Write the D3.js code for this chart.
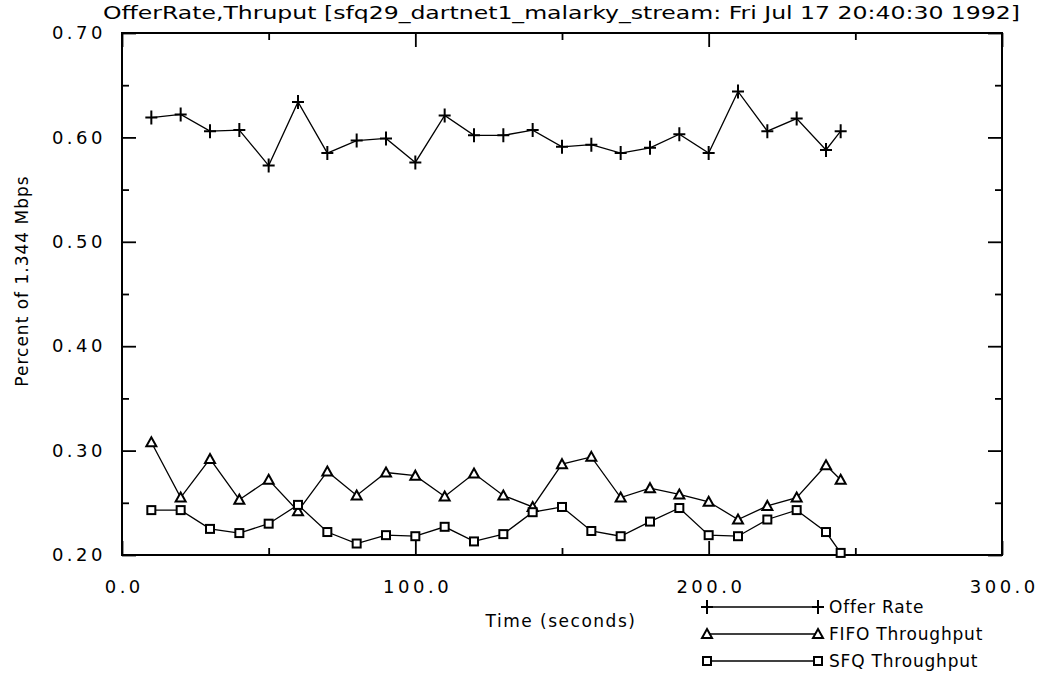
<!DOCTYPE html>
<html>
<head>
<meta charset="utf-8">
<script src="https://cdn.jsdelivr.net/npm/d3@7"></script>
<style>
  html, body { margin: 0; padding: 0; background: #fff; }
  svg { display: block; }
  text { font-family: "DejaVu Sans", sans-serif; fill: #000; }
</style>
</head>
<body>
<svg id="chart" width="1038" height="677"></svg>
<script>
// Sample times (seconds)
const times = [10, 20, 30, 40, 50, 60, 70, 80, 90, 100, 110, 120, 130,
               140, 150, 160, 170, 180, 190, 200, 210, 220, 230, 240, 245];

// Fraction of the 1.344 Mbps link
const offerRate = [0.619, 0.622, 0.606, 0.607, 0.573, 0.634, 0.585, 0.597, 0.599, 0.576,
                   0.621, 0.602, 0.602, 0.607, 0.591, 0.593, 0.585, 0.590, 0.603, 0.585,
                   0.644, 0.606, 0.618, 0.588, 0.606];
const fifoThroughput = [0.308, 0.255, 0.292, 0.253, 0.272, 0.242, 0.280, 0.257, 0.279, 0.276,
                        0.256, 0.278, 0.257, 0.246, 0.287, 0.294, 0.255, 0.264, 0.258, 0.251,
                        0.234, 0.247, 0.255, 0.286, 0.272];
const sfqThroughput = [0.243, 0.243, 0.225, 0.221, 0.230, 0.248, 0.222, 0.211, 0.219, 0.218,
                       0.227, 0.213, 0.220, 0.241, 0.246, 0.223, 0.218, 0.232, 0.245, 0.219,
                       0.218, 0.234, 0.243, 0.222, 0.202];

// Axis ticks
const xMajorTicks = [0, 100, 200, 300];
const xMinorTicks = [50, 150, 250];
const yMajorTicks = [0.2, 0.3, 0.4, 0.5, 0.6, 0.7];
const yMinorTicks = [0.25, 0.35, 0.45, 0.55, 0.65];

const titleText = "OfferRate,Thruput [sfq29_dartnet1_malarky_stream: Fri Jul 17 20:40:30 1992]";
const xLabel = "Time (seconds)";
const yLabel = "Percent of 1.344 Mbps";
const seriesNames = ["Offer Rate", "FIFO Throughput", "SFQ Throughput"];
const seriesMarkers = ["plus", "triangle", "square"];

const svg = d3.select("#chart");
const plotLeft = 122, plotRight = 1002, plotTop = 33, plotBottom = 555;

const x = d3.scaleLinear().domain([0, 300]).range([plotLeft, plotRight]);
const y = d3.scaleLinear().domain([0.2, 0.7]).range([plotBottom, plotTop]);

// Frame
svg.append("rect")
  .attr("x", plotLeft).attr("y", plotTop)
  .attr("width", plotRight - plotLeft).attr("height", plotBottom - plotTop)
  .attr("fill", "none").attr("stroke", "#000").attr("stroke-width", 2);

const tickStyle = g => {
  g.select(".domain").remove();
  g.selectAll(".tick line").attr("stroke", "#000").attr("stroke-width", 1.8);
  g.selectAll(".tick text")
    .style("font-size", "18px")
    .style("letter-spacing", "3.5px")
    .attr("fill", "#000");
};

// Bottom axis: labelled major ticks, pointing inward
svg.append("g").attr("transform", `translate(0,${plotBottom})`)
  .call(d3.axisBottom(x).tickValues(xMajorTicks).tickSize(-14).tickPadding(25)
        .tickFormat(d3.format(".1f")))
  .call(tickStyle)
  .call(g => g.selectAll(".tick text").attr("dx", "1.75px"));
svg.append("g").attr("transform", `translate(0,${plotBottom})`)
  .call(d3.axisBottom(x).tickValues(xMinorTicks).tickSize(-7).tickFormat(""))
  .call(tickStyle);
// Top axis
svg.append("g").attr("transform", `translate(0,${plotTop})`)
  .call(d3.axisTop(x).tickValues(xMajorTicks).tickSize(-14).tickFormat(""))
  .call(tickStyle);
svg.append("g").attr("transform", `translate(0,${plotTop})`)
  .call(d3.axisTop(x).tickValues(xMinorTicks).tickSize(-7).tickFormat(""))
  .call(tickStyle);

// Left axis
svg.append("g").attr("transform", `translate(${plotLeft},0)`)
  .call(d3.axisLeft(y).tickValues(yMajorTicks).tickSize(-14).tickPadding(16)
        .tickFormat(d3.format(".2f")))
  .call(tickStyle);
svg.append("g").attr("transform", `translate(${plotLeft},0)`)
  .call(d3.axisLeft(y).tickValues(yMinorTicks).tickSize(-7).tickFormat(""))
  .call(tickStyle);
// Right axis
svg.append("g").attr("transform", `translate(${plotRight},0)`)
  .call(d3.axisRight(y).tickValues(yMajorTicks).tickSize(-14).tickFormat(""))
  .call(tickStyle);
svg.append("g").attr("transform", `translate(${plotRight},0)`)
  .call(d3.axisRight(y).tickValues(yMinorTicks).tickSize(-7).tickFormat(""))
  .call(tickStyle);

// Title
svg.append("text")
  .attr("x", 103).attr("y", 19)
  .attr("textLength", 917).attr("lengthAdjust", "spacingAndGlyphs")
  .style("font-size", "17px")
  .text(titleText);

// Axis titles
svg.append("text")
  .attr("x", 561).attr("y", 627)
  .attr("text-anchor", "middle")
  .style("font-size", "17px").style("letter-spacing", "1.5px")
  .text(xLabel);

svg.append("text")
  .attr("transform", "translate(28,281) rotate(-90)")
  .attr("text-anchor", "middle")
  .style("font-size", "17px").style("letter-spacing", "1px")
  .text(yLabel);

// Marker drawing
function drawMarker(g, type, cx, cy) {
  if (type === "plus") {
    g.append("path")
      .attr("d", `M${cx - 6},${cy}H${cx + 6}M${cx},${cy - 7}V${cy + 7}`)
      .attr("stroke", "#000").attr("stroke-width", 2).attr("fill", "none");
  } else if (type === "triangle") {
    g.append("path")
      .attr("d", `M${cx},${cy - 5}L${cx + 5},${cy + 4}L${cx - 5},${cy + 4}Z`)
      .attr("stroke", "#000").attr("stroke-width", 2).attr("fill", "#fff");
  } else {
    g.append("rect")
      .attr("x", cx - 4).attr("y", cy - 4).attr("width", 8).attr("height", 8)
      .attr("stroke", "#000").attr("stroke-width", 2).attr("fill", "#fff");
  }
}

const seriesValues = [offerRate, fifoThroughput, sfqThroughput];
const line = d3.line().x(d => x(d[0])).y(d => y(d[1]));

seriesValues.forEach((vals, i) => {
  const pts = times.map((t, j) => [t, vals[j]]);
  const g = svg.append("g");
  g.append("path").datum(pts)
    .attr("d", line)
    .attr("fill", "none").attr("stroke", "#000").attr("stroke-width", 1.3);
  pts.forEach(p => drawMarker(g, seriesMarkers[i], x(p[0]), y(p[1])));
});

// Legend
const legendY = [607, 634, 661];
seriesNames.forEach((name, i) => {
  const g = svg.append("g");
  const ly = legendY[i];
  g.append("line").attr("x1", 707).attr("x2", 818).attr("y1", ly).attr("y2", ly)
    .attr("stroke", "#000").attr("stroke-width", 1.3);
  drawMarker(g, seriesMarkers[i], 707, ly);
  drawMarker(g, seriesMarkers[i], 818, ly);
  g.append("text")
    .attr("x", 829).attr("y", ly).attr("dy", "0.36em")
    .style("font-size", "17px").style("letter-spacing", "0.8px")
    .text(name);
});
</script>
</body>
</html>
